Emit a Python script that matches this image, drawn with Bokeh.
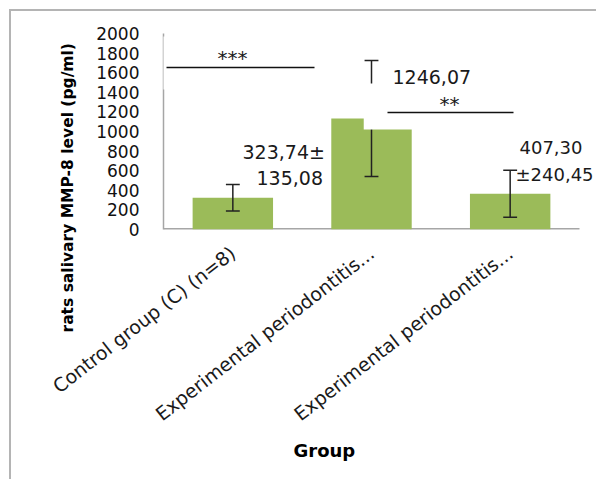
import math
from bokeh.plotting import figure
from bokeh.models import Range1d, FixedTicker, Label, BoxAnnotation, Title
from bokeh.embed import file_html
from bokeh.resources import INLINE

# ---- data ----
groups = ["Control group (C) (n=8)", "Experimental periodontitis...", "Experimental periodontitis..."]
positions = [0, 1, 2]
means = [323.74, 1133.0, 365.0]
sds = [135.08, 592.0, 240.45]
y_ticks = [0, 200, 400, 600, 800, 1000, 1200, 1400, 1600, 1800, 2000]
value_texts = ["323,74\u00b1", "135,08", "1246,07", "407,30", "\u00b1240,45"]
sig_marks = ["***", "**"]
y_title = "rats salivary  MMP-8 level (pg/ml)"
x_title = "Group"

FONT = "DejaVu Sans"
GREEN = "#9bbb59"
AXIS_GRAY = "#a6a6a6"
OX, OY = 11, 11          # page offset of the canvas (margin + frame border)
FL, FR, FT, FB = 163, 598, 33, 229   # frame edges in page pixels
UNIT = (579 - 163) / 3.0             # pixels per category

p = figure(width=598 - OX, height=481 - OY,
           x_range=Range1d(-0.5, 2.5 + (FR - 579) / UNIT), y_range=Range1d(0, 2000),
           output_backend="svg", toolbar_location=None,
           min_border_left=FL - OX, min_border_right=0, min_border_top=FT - OY, min_border_bottom=481 - FB)
p.styles = {"margin-left": "9px", "margin-top": "9px",
            "border-left": "2px solid #b4b4b4", "border-top": "2px solid #b4b4b4"}
# page-pixel helper ranges for annotations
p.extra_x_ranges = {"px": Range1d(FL, FR)}
p.extra_y_ranges = {"py": Range1d(FB, FT)}
p.grid.visible = False
p.outline_line_color = None
p.background_fill_color = "white"
p.border_fill_color = "white"

# x axis
xa = p.xaxis[0]
xa.ticker = FixedTicker(ticks=positions)
xa.major_label_overrides = {k: g for k, g in zip(positions, groups)}
xa.major_label_orientation = 0.66
xa.major_label_text_font = FONT
xa.major_label_text_font_size = "19px"
xa.major_label_text_color = "#1a1a1a"
xa.major_label_standoff = 21
xa.major_tick_out = 0
xa.major_tick_in = 0
xa.minor_tick_out = 0
xa.minor_tick_in = 0
xa.axis_line_color = None

# y axis
ya = p.yaxis[0]
ya.ticker = FixedTicker(ticks=y_ticks)
ya.major_label_text_font = FONT
ya.major_label_text_font_size = "17px"
ya.major_label_text_color = "#111111"
ya.major_label_standoff = 24
ya.major_tick_out = 0
ya.major_tick_in = 0
ya.minor_tick_out = 0
ya.minor_tick_in = 0
ya.axis_line_color = AXIS_GRAY
ya.axis_line_width = 1.5

# visible x axis line (ends before the frame's right edge)
p.segment(x0=[FL], y0=[FB], x1=[579], y1=[FB], x_range_name="px", y_range_name="py",
          line_color=AXIS_GRAY, line_width=3)

# bars
p.vbar(x=positions, top=means, width=0.58, fill_color=GREEN, line_color=None)

# error bars
lows = [m - s for m, s in zip(means, sds)]
highs = [m + s for m, s in zip(means, sds)]
p.segment(x0=positions, y0=lows, x1=positions, y1=highs, line_color="#222222", line_width=1.5)
cap = 0.05
p.segment(x0=[x - cap for x in positions], y0=highs, x1=[x + cap for x in positions], y1=highs,
          line_color="#222222", line_width=1.5)
p.segment(x0=[x - cap for x in positions], y0=lows, x1=[x + cap for x in positions], y1=lows,
          line_color="#222222", line_width=1.5)

# white text box that hides part of the second bar
p.quad(left=[0.944], right=[1.3], bottom=[1020], top=[1490], fill_color="white", line_color=None)

# significance lines
p.segment(x0=[FL, 387], y0=[67, 112], x1=[314, 513], y1=[67, 112],
          x_range_name="px", y_range_name="py", line_color="#111111", line_width=1.5)

# cover of the upper part of the y axis line
p.add_layout(BoxAnnotation(left=160.5, right=166, top=36, bottom=89, x_range_name="px", y_range_name="py",
                           fill_color="white", fill_alpha=1, line_color=None))

def lab(x, y, text, size="19px", align="left", color="#1a1a1a"):
    p.add_layout(Label(x=x, y=y, text=text, x_range_name="px", y_range_name="py",
                       text_font=FONT, text_font_size=size, text_align=align,
                       text_baseline="middle", text_color=color))

# significance stars
lab(232, 57, sig_marks[0], size="20px", align="center")
lab(449, 103, sig_marks[1], size="20px", align="center")

# value annotations
lab(242, 151.5, value_texts[0])
lab(256, 177, value_texts[1])
lab(392, 76, value_texts[2])
lab(519, 146.5, value_texts[3], size="18px")
lab(515, 173.5, value_texts[4], size="18px")

# axis titles (side panels, so they are not clipped)
p.add_layout(Title(text=y_title, align="left", offset=-103, text_font=FONT, text_font_size="15.5px",
                   text_font_style="bold", text_color="#000000", standoff=34), "left")
p.add_layout(Title(text=x_title, align="left", offset=130, text_font=FONT, text_font_size="18px",
                   text_font_style="bold", text_color="#000000", standoff=2), "below")

open("out.html", "w").write(file_html(p, INLINE))
